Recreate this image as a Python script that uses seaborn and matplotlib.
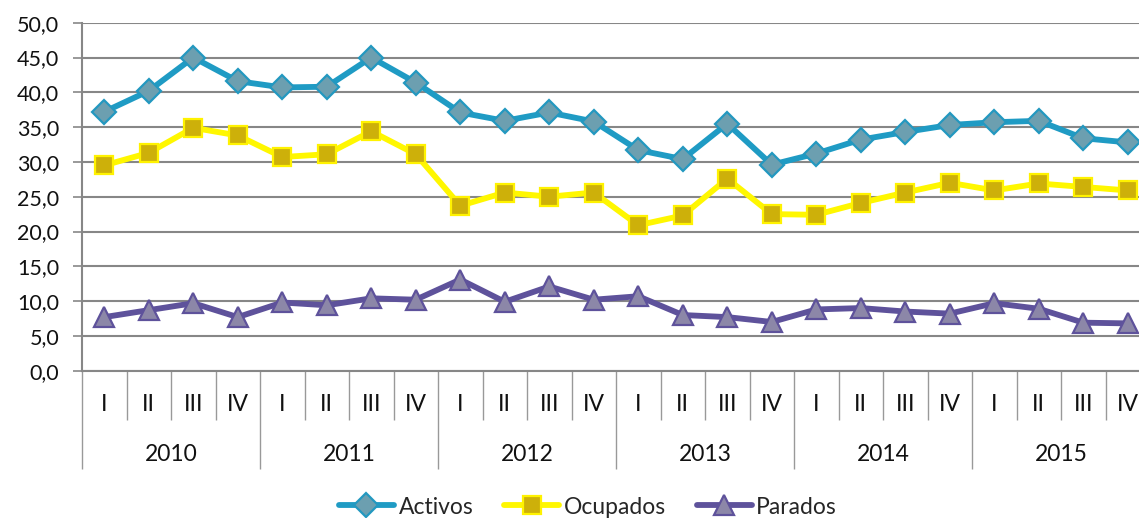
import matplotlib
matplotlib.use("Agg")
import matplotlib.pyplot as plt
import seaborn as sns
import numpy as np
import pandas as pd

years = ["2010", "2011", "2012", "2013", "2014", "2015"]
quarters = ["I", "II", "III", "IV"]

activos = [37.2, 40.2, 45.0, 41.6, 40.7, 40.8, 45.0, 41.4,
           37.1, 35.9, 37.1, 35.8, 31.7, 30.4, 35.5, 29.6,
           31.2, 33.2, 34.3, 35.3, 35.7, 35.9, 33.4, 32.8]
ocupados = [29.5, 31.3, 34.9, 33.8, 30.7, 31.1, 34.4, 31.1,
            23.7, 25.6, 25.0, 25.6, 20.9, 22.3, 27.6, 22.5,
            22.4, 24.1, 25.6, 27.0, 25.9, 26.9, 26.4, 25.9]
parados = [7.7, 8.7, 9.7, 7.7, 9.8, 9.4, 10.4, 10.2,
           13.1, 9.9, 12.1, 10.2, 10.7, 8.0, 7.7, 7.0,
           8.8, 9.0, 8.5, 8.2, 9.7, 8.9, 6.9, 6.8]

yticks = np.arange(0, 50.1, 5)

sns.set_theme(style="white")
plt.rcParams["font.family"] = ["Lato", "DejaVu Sans"]

fig = plt.figure(figsize=(11.39, 5.18), dpi=100)
ax = fig.add_axes([82 / 1139, 147.3 / 518, 1068 / 1139, 348 / 518])

pos = np.arange(len(activos))
gray = "#878787"
txt = "#111111"

series = [
    ("Activos", activos, "#1F9BC4", "#6C9FB0", "#2398C0", "D", 12.5),
    ("Ocupados", ocupados, "#FFF700", "#CDB00A", "#FFF200", "s", 13.5),
    ("Parados", parados, "#5E529B", "#8C87A8", "#5E529B", "^", 14),
]
for name, vals, lc, fc, ec, mk, ms in series:
    df = pd.DataFrame({"x": pos, "y": vals})
    sns.lineplot(data=df, x="x", y="y", ax=ax, color=lc, lw=4.2,
                 marker=mk, markersize=ms, markerfacecolor=fc,
                 markeredgecolor=ec, markeredgewidth=1.6, label=name,
                 zorder=3, legend=False)

ax.set_xlim(-0.5, len(activos) - 0.5)
ax.set_ylim(0, 50)
ax.set_yticks(yticks)
ax.set_yticklabels([f"{v:.1f}".replace(".", ",") for v in yticks],
                   fontsize=15.5, color=txt)
ax.yaxis.grid(True, color=gray, lw=1.5)
ax.set_axisbelow(True)
ax.set_xlabel("")
ax.set_ylabel("")

for s in ["top", "right"]:
    ax.spines[s].set_visible(False)
for s in ["left", "bottom"]:
    ax.spines[s].set_color(gray)
    ax.spines[s].set_linewidth(1.5)

ax.tick_params(axis="y", which="major", direction="out", length=6.5,
               width=1.2, color=gray, pad=10, left=True)

n = len(activos)
bounds = np.arange(-0.5, n, 1.0)
major_b = [b for i, b in enumerate(bounds) if i % 4 == 0]
minor_b = [b for i, b in enumerate(bounds) if i % 4 != 0]
ax.set_xticks(major_b)
ax.set_xticks(minor_b, minor=True)
ax.set_xticklabels([])
ax.tick_params(axis="x", which="major", direction="out", length=70.5,
               width=1.0, color="#999999", bottom=True)
ax.tick_params(axis="x", which="minor", direction="out", length=35.5,
               width=1.0, color="#999999", bottom=True)

for i in range(n):
    ax.annotate(quarters[i % 4], xy=(i, 0), xycoords=("data", "axes fraction"),
                xytext=(0, -24.5), textcoords="offset points",
                ha="center", va="center", fontsize=16.5, color=txt,
                annotation_clip=False)
for j, yr in enumerate(years):
    ax.annotate(yr, xy=(j * 4 + 1.5, 0), xycoords=("data", "axes fraction"),
                xytext=(0, -60.5), textcoords="offset points",
                ha="center", va="center", fontsize=16.5, color=txt,
                annotation_clip=False)

handles, labels = ax.get_legend_handles_labels()
fig.legend(handles, labels, loc="center", bbox_to_anchor=(588 / 1139, 11 / 518),
           ncol=3, frameon=False, fontsize=16.5, handlelength=2.4,
           handletextpad=0.2, columnspacing=1.35, borderaxespad=0)

fig.savefig("out.png", dpi=100)
